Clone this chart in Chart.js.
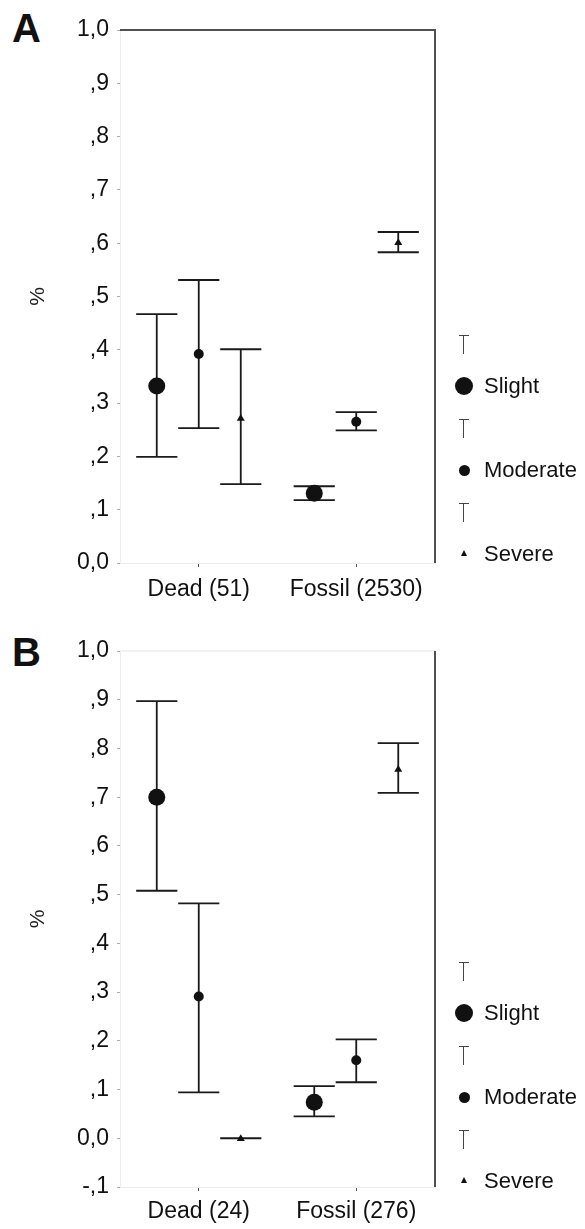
<!DOCTYPE html>
<html>
<head>
<meta charset="utf-8">
<script src="https://cdn.jsdelivr.net/npm/chart.js@4.4.0/dist/chart.umd.min.js"></script>
<style>
body { margin: 0; background: #fff; font-family: 'Liberation Sans', Arial, sans-serif; }
#page { position: relative; width: 585px; height: 1229px; overflow: hidden; }
canvas { position: absolute; left: 0; }
.panel { position: absolute; left: 12px; font-weight: bold; font-size: 40px; line-height: 40px; color: #111; }
.lbl { position: absolute; font-size: 22px; line-height: 24px; color: #111; white-space: nowrap; }
.tee { position: absolute; width: 10px; height: 19px; border-top: 1.5px solid #444; box-sizing: border-box; }
.tee::after { content: ''; position: absolute; left: 4px; top: 0; width: 1.3px; height: 18px; background: #444; }
.dot { position: absolute; border-radius: 50%; background: #111; }
.tri { position: absolute; width: 0; height: 0; border-left: 3px solid transparent; border-right: 3px solid transparent; border-bottom: 6px solid #111; }
</style>
</head>
<body>
<div id="page">
  <div class="panel" style="top:8px">A</div>
  <div class="panel" style="top:632px">B</div>
  <canvas id="chartA" width="585" height="612" style="top:0"></canvas>
  <canvas id="chartB" width="585" height="617" style="top:612px"></canvas>
</div>
<script>
const severities = ['Slight', 'Moderate', 'Severe'];

// panel A
const groupsA = ['Dead (51)', 'Fossil (2530)'];
const ticksA = ['0,0', ',1', ',2', ',3', ',4', ',5', ',6', ',7', ',8', ',9', '1,0'];
const slightMeanA = [0.332, 0.131];
const slightLowA = [0.199, 0.118];
const slightHighA = [0.467, 0.144];
const moderateMeanA = [0.392, 0.265];
const moderateLowA = [0.253, 0.249];
const moderateHighA = [0.531, 0.283];
const severeMeanA = [0.272, 0.602];
const severeLowA = [0.148, 0.583];
const severeHighA = [0.401, 0.621];

// panel B
const groupsB = ['Dead (24)', 'Fossil (276)'];
const ticksB = ['-,1', '0,0', ',1', ',2', ',3', ',4', ',5', ',6', ',7', ',8', ',9', '1,0'];
const slightMeanB = [0.700, 0.074];
const slightLowB = [0.508, 0.045];
const slightHighB = [0.897, 0.107];
const moderateMeanB = [0.291, 0.160];
const moderateLowB = [0.094, 0.115];
const moderateHighB = [0.482, 0.203];
const severeMeanB = [0.000, 0.758];
const severeLowB = [0.000, 0.709];
const severeHighB = [0.000, 0.811];

const markers = [
  { shape: 'circle', r: 8.5 },
  { shape: 'circle', r: 5 },
  { shape: 'triangle', r: 4 }
];

function drawMarker(ctx, m, x, y) {
  ctx.fillStyle = '#111';
  ctx.beginPath();
  if (m.shape === 'circle') {
    ctx.arc(x, y, m.r, 0, Math.PI * 2);
  } else {
    ctx.moveTo(x, y - m.r);
    ctx.lineTo(x + m.r, y + m.r * 0.7);
    ctx.lineTo(x - m.r, y + m.r * 0.7);
    ctx.closePath();
  }
  ctx.fill();
}

// whiskers + mean markers, positioned from the bar elements and the y scale
const errorBars = {
  id: 'errorBars',
  afterDatasetsDraw(chart) {
    const ctx = chart.ctx;
    const yScale = chart.scales.y;
    ctx.save();
    chart.data.datasets.forEach((ds, i) => {
      const meta = chart.getDatasetMeta(i);
      meta.data.forEach((bar, j) => {
        const x = bar.x, half = bar.width / 2;
        const yLo = yScale.getPixelForValue(ds.data[j][0]);
        const yHi = yScale.getPixelForValue(ds.data[j][1]);
        ctx.strokeStyle = '#1a1a1a';
        ctx.lineWidth = 1.8;
        ctx.beginPath();
        ctx.moveTo(x, yLo); ctx.lineTo(x, yHi);
        ctx.moveTo(x - half, yLo); ctx.lineTo(x + half, yLo);
        ctx.moveTo(x - half, yHi); ctx.lineTo(x + half, yHi);
        ctx.stroke();
        drawMarker(ctx, markers[i], x, yScale.getPixelForValue(ds.means[j]));
      });
    });
    ctx.restore();
  }
};

const frame = {
  id: 'frame',
  afterDraw(chart, args, opts) {
    const a = chart.chartArea, ctx = chart.ctx;
    ctx.save();
    ctx.lineWidth = 2;
    ctx.strokeStyle = opts.top;
    ctx.beginPath(); ctx.moveTo(a.left, a.top); ctx.lineTo(a.right + 1, a.top); ctx.stroke();
    ctx.strokeStyle = opts.right;
    ctx.beginPath(); ctx.moveTo(a.right, a.top); ctx.lineTo(a.right, a.bottom); ctx.stroke();
    ctx.restore();
  }
};

function makeChart(id, groups, means, lows, highs, yMin, tickLabels, cfg) {
  const datasets = severities.map((name, i) => ({
    label: name,
    data: lows[i].map((lo, j) => [lo, highs[i][j]]),
    means: means[i],
    backgroundColor: 'rgba(0,0,0,0)',
    borderWidth: 0,
    categoryPercentage: 0.8,
    barPercentage: 0.98
  }));
  return new Chart(document.getElementById(id), {
    type: 'bar',
    data: { labels: groups, datasets: datasets },
    options: {
      responsive: false,
      animation: false,
      layout: { padding: { left: 0, right: 150, top: cfg.top, bottom: 0 } },
      plugins: {
        legend: { display: false },
        tooltip: { enabled: false },
        frame: { top: cfg.topColor, right: '#505050' }
      },
      scales: {
        x: {
          grid: { drawOnChartArea: false, offset: false, tickLength: 4, color: '#555' },
          border: { color: '#ececec' },
          ticks: { font: { family: 'Liberation Sans', size: 23 }, color: '#111', padding: cfg.xPad },
          afterFit: s => { s.height = cfg.xHeight; }
        },
        y: {
          min: yMin,
          max: 1,
          ticks: {
            stepSize: 0.1,
            font: { family: 'Liberation Sans', size: 23 },
            color: '#111',
            padding: 8,
            callback: v => tickLabels[Math.round((v - yMin) * 10)]
          },
          grid: { drawOnChartArea: false, tickLength: 3, color: '#aaa' },
          border: { color: '#ececec' },
          title: { display: true, text: '%', font: { family: 'Liberation Sans', size: 21 }, color: '#222', padding: { top: 26, bottom: 0 } },
          afterFit: s => { s.width = 120; }
        }
      }
    },
    plugins: [errorBars, frame]
  });
}

makeChart('chartA', groupsA,
  [slightMeanA, moderateMeanA, severeMeanA],
  [slightLowA, moderateLowA, severeLowA],
  [slightHighA, moderateHighA, severeHighA],
  0, ticksA, { top: 30, xHeight: 49, xPad: 9, topColor: '#505050' });

makeChart('chartB', groupsB,
  [slightMeanB, moderateMeanB, severeMeanB],
  [slightLowB, moderateLowB, severeLowB],
  [slightHighB, moderateHighB, severeHighB],
  -0.1, ticksB, { top: 39, xHeight: 42, xPad: 7, topColor: '#f2f2f2' });

// legend (HTML)
function legend(top) {
  const page = document.getElementById('page');
  severities.forEach((name, i) => {
    const yT = top + i * 84;
    const yM = yT + 41;
    const tee = document.createElement('div');
    tee.className = 'tee';
    tee.style.left = '459px';
    tee.style.top = (yT - 10) + 'px';
    page.appendChild(tee);
    const m = markers[i];
    const mk = document.createElement('div');
    if (m.shape === 'circle') {
      const r = m.r + 0.5;
      mk.className = 'dot';
      mk.style.width = mk.style.height = (2 * r) + 'px';
      mk.style.left = (464 - r) + 'px';
      mk.style.top = (yM - r) + 'px';
    } else {
      mk.className = 'tri';
      mk.style.left = '461px';
      mk.style.top = (yM - 4) + 'px';
    }
    page.appendChild(mk);
    const lbl = document.createElement('div');
    lbl.className = 'lbl';
    lbl.textContent = name;
    lbl.style.left = '484px';
    lbl.style.top = (yM - 12) + 'px';
    page.appendChild(lbl);
  });
}
legend(345);
legend(972);
</script>
</body>
</html>
